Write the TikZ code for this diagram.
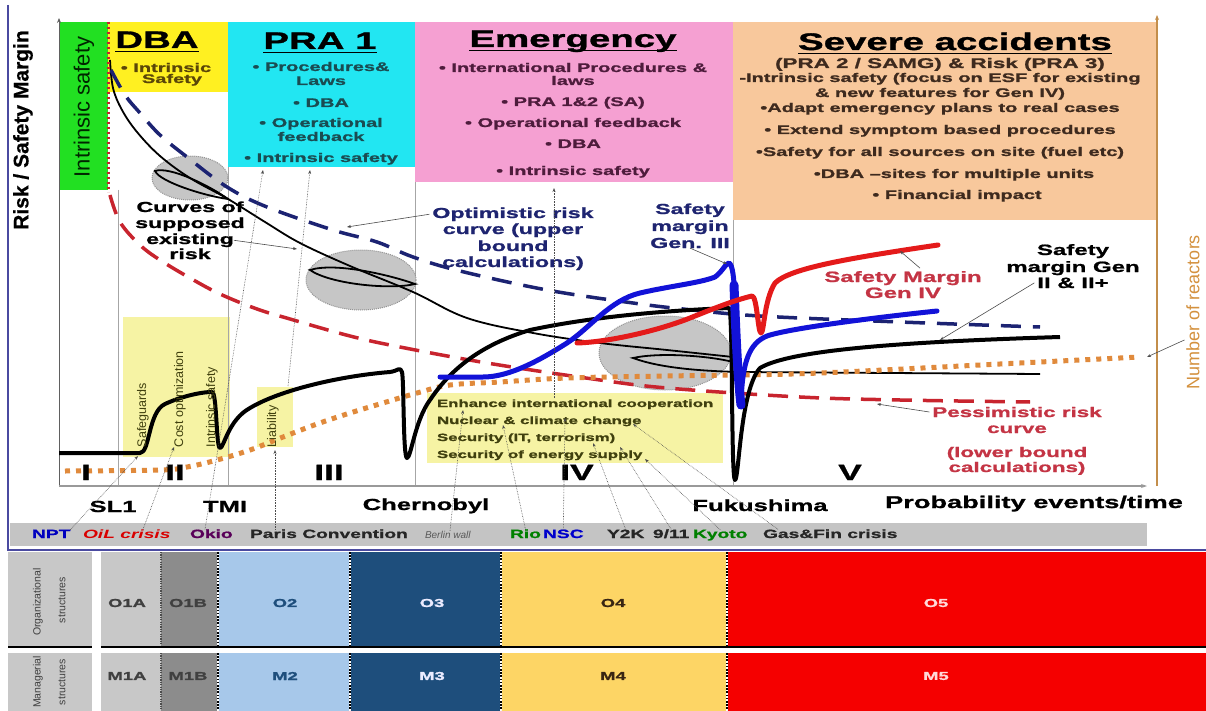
\documentclass[tikz,border=0pt]{standalone}
\usepackage{fontspec}
\setmainfont{Liberation Sans}[FakeStretch=1.6, BoldFeatures={FakeBold=1.2}]
\newfontfamily\plainfont{Liberation Sans}[BoldFeatures={FakeBold=0.6}]
\usetikzlibrary{arrows.meta}
\newcommand{\fsz}[1]{\fontsize{#1}{#1}\selectfont}

\definecolor{greenbox}{HTML}{22E022}
\definecolor{yellowbox}{HTML}{FFF021}
\definecolor{cyanbox}{HTML}{22E6F2}
\definecolor{pinkbox}{HTML}{F5A0D2}
\definecolor{orangebox}{HTML}{F8C89C}
\definecolor{paleyellow}{HTML}{F6F3A4}
\definecolor{navyline}{HTML}{1C2372}
\definecolor{pessred}{HTML}{C8242E}
\definecolor{genthree}{HTML}{1212D8}
\definecolor{genfour}{HTML}{E41A1A}
\definecolor{reactor}{HTML}{E08A3C}
\definecolor{reactortext}{HTML}{D4913E}
\definecolor{ellgray}{HTML}{C6C6C6}
\definecolor{bargray}{HTML}{C4C4C4}
\definecolor{labred}{HTML}{C43444}
\definecolor{labnavy}{HTML}{1E2470}
\definecolor{framecol}{HTML}{4A4AA0}
\definecolor{dbatext}{HTML}{5A4608}
\definecolor{pratext}{HTML}{1A4C52}
\definecolor{emtext}{HTML}{4E1C3C}
\definecolor{satext}{HTML}{3E2A1E}
\definecolor{olivetext}{HTML}{40400E}
\definecolor{cellgrayA}{HTML}{C8C8C8}
\definecolor{cellgrayB}{HTML}{8C8C8C}
\definecolor{celllblue}{HTML}{A7C8EA}
\definecolor{celldblue}{HTML}{1E4E7C}
\definecolor{cellyellow}{HTML}{FDD565}
\definecolor{cellred}{HTML}{F50000}

\begin{document}
\begin{tikzpicture}[x=1pt,y=-1pt,
  every node/.style={inner sep=0pt, outer sep=0pt},
  hdr/.style={anchor=base, font=\bfseries\fsz{24}},
  uline/.style={line width=1.8pt, black},
  item/.style={anchor=base, font=\bfseries\fsz{12.5}},
  curvelab/.style={anchor=base, font=\bfseries\fsz{14.5}},
  boxnote/.style={anchor=base west, font=\bfseries\fsz{10.5}, text=olivetext},
  sidenote/.style={anchor=west, rotate=90, font=\plainfont\fsz{12.5}, text=olivetext},
  roman/.style={anchor=base, font=\bfseries\fsz{22}},
  eventlab/.style={anchor=base, font=\bfseries\fsz{16}},
  barlab/.style={anchor=base west, font=\bfseries\fsz{12}},
  celllab/.style={anchor=center, font=\bfseries\fsz{11.5}},
  rowlab/.style={anchor=center, rotate=90, font=\plainfont\fsz{10.5}, text=black!75},
  phase/.style={gray!70, line width=1pt},
  ellipsebg/.style={fill=ellgray, draw=gray!85, densely dotted, line width=1pt},
  thinblk/.style={black, line width=1.8pt},
  leader/.style={gray!60!black, line width=0.6pt, densely dotted, -{Stealth[length=4pt,width=3pt]}},
  pointer/.style={black!70, line width=0.6pt, -{Stealth[length=4pt,width=3pt]}},
  sepline/.style={black, line width=2.6pt, dash pattern=on 1.6pt off 1.6pt},
  thinsep/.style={black!70, line width=1.4pt, dash pattern=on 1.2pt off 1.2pt}
]
\useasboundingbox (0,0) rectangle (1206,711);
\fill[white] (0,0) rectangle (1206,711);

% ---------- phase header boxes ----------
\fill[greenbox] (59,22) rectangle (108,190);
\fill[yellowbox] (108,22) rectangle (228,92);
\fill[cyanbox] (228,22) rectangle (415,167);
\fill[pinkbox] (415,22) rectangle (733,182);
\fill[orangebox] (733,22) rectangle (1157,220);

% ---------- pale highlight boxes ----------
\fill[paleyellow] (123,317) rectangle (230,457);
\fill[paleyellow] (257,387) rectangle (293,447);
\fill[paleyellow] (427,393) rectangle (723,463);

% ---------- frame and event bar ----------
\draw[framecol, line width=1.5pt] (8,5) -- (8,550) -- (1206,550);
\fill[bargray] (10,523) rectangle (1147,546);

% ---------- phase separators ----------
\draw[phase] (118,190) -- (118,486);
\draw[phase] (228,167) -- (228,486);
\draw[phase] (415,182) -- (415,486);
\draw[phase] (733,220) -- (733,486);

% ---------- axes ----------
\draw[gray!75!black, line width=1pt, -{Stealth[length=5pt,width=4pt]}] (59,486) -- (59,18);
\draw[gray!80, line width=1.5pt, -{Stealth[length=6pt,width=4pt]}] (59,486) -- (1147,486);
\draw[reactortext!80!gray, line width=1.2pt, -{Stealth[length=5pt,width=4pt]}] (1157,486) -- (1157,15);

% ---------- gray uncertainty ellipses ----------
\draw[ellipsebg] (190,178) ellipse [x radius=38, y radius=22];
\draw[ellipsebg] (361,280) ellipse [x radius=55, y radius=30];
\draw[ellipsebg] (665,353) ellipse [x radius=66, y radius=37];

% ---------- curves of supposed existing risk ----------
\draw[thinblk] plot[smooth, tension=0.6] coordinates {(110,60) (113,88) (122,110) (137,132) (160,156) (190,178) (228,199) (265,222) (300,243) (350,266) (413,292) (467,318) (533,333) (600,343) (667,350) (733,357)};
\draw[thinblk] (155,171) .. controls (170,166) and (210,186) .. (228,199) .. controls (205,196) and (160,182) .. cycle;
\draw[thinblk] (310,270) .. controls (335,262) and (390,275) .. (415,284) .. controls (390,290) and (330,284) .. cycle;
\draw[thinblk] (733,362) .. controls (710,356) and (660,352) .. (633,358) .. controls (660,368) and (700,371) .. (740,372) -- (1040,374);

% ---------- optimistic risk curve ----------
\draw[navyline, line width=3.5pt, dash pattern=on 20pt off 12pt] plot[smooth, tension=0.6] coordinates {(111,70) (125,95) (140,113) (160,135) (187,157) (227,187) (267,207) (333,230) (377,242) (413,257) (460,271) (547,290) (633,303) (683,309) (760,316) (900,322) (1040,327)};

% ---------- pessimistic risk curve ----------
\draw[pessred, line width=3pt, dash pattern=on 2.5pt off 2.5pt] (108,22) -- (108,192);
\draw[pessred, line width=3.5pt, dash pattern=on 20pt off 11pt] plot[smooth, tension=0.6] coordinates {(110,195) (120,222) (140,245) (160,260) (190,278) (220,294) (257,309) (290,319) (350,336) (400,347) (487,363) (593,379) (667,388) (800,397) (900,400) (1030,402)};

% ---------- number of reactors ----------
\draw[reactor, line width=5pt, dash pattern=on 5pt off 6pt] plot[smooth, tension=0.6] coordinates {(65,471) (160,470) (187,467) (217,460) (250,450) (283,437) (317,424) (350,413) (383,403) (417,393) (450,385) (500,382) (567,378) (667,376) (733,375) (820,373) (1000,364) (1140,357)};

% ---------- safety margin Gen II & II+ ----------
\draw[black, line width=4pt, line join=round] (59,453) -- (140,453)
  .. controls (150,453) and (148,412) .. (165,404)
  .. controls (180,397) and (200,392) .. (212,392)
  .. controls (217,392) and (216,448) .. (220,448)
  .. controls (224,448) and (228,420) .. (250,408)
  .. controls (280,390) and (340,376) .. (390,372)
  .. controls (398,371) and (400,366) .. (402,372)
  .. controls (404,380) and (403,458) .. (407,458)
  .. controls (411,458) and (415,420) .. (430,400)
  .. controls (450,370) and (480,345) .. (530,330)
  .. controls (600,315) and (680,310) .. (729,308)
  .. controls (733,308) and (731,480) .. (735,480)
  .. controls (739,480) and (740,390) .. (760,368)
  .. controls (790,350) and (900,342) .. (1060,337);

% ---------- safety margin Gen III ----------
\draw[genthree, line width=5pt, line cap=round, line join=round] (440,377) -- (483,377)
  .. controls (510,377) and (540,360) .. (567,343)
  .. controls (590,328) and (610,300) .. (640,293)
  .. controls (670,286) and (700,283) .. (715,277)
  .. controls (722,272) and (726,263) .. (729,263)
  .. controls (733,265) and (734,280) .. (735,300);
\draw[genthree, line width=9pt, line cap=round] (734,285) .. controls (736,340) and (738,380) .. (741,405);
\draw[genthree, line width=5pt, line cap=round] (741,405) .. controls (742,360) and (750,343) .. (767,336) .. controls (790,328) and (880,317) .. (937,311);

% ---------- safety margin Gen IV ----------
\draw[genfour, line width=5pt, line cap=round, line join=round] (577,343)
  .. controls (610,342) and (660,330) .. (690,318)
  .. controls (715,308) and (735,300) .. (752,296)
  .. controls (757,296) and (758,333) .. (761,333)
  .. controls (764,333) and (764,300) .. (775,283)
  .. controls (790,268) and (850,258) .. (938,245);

% ---------- header texts ----------
\node[hdr] (dba-t) at (157,48) {DBA};
\node[hdr] (pra-t) at (320,49) {PRA 1};
\node[hdr] (em-t) at (573,47) {Emergency};
\node[hdr] (sa-t) at (955,50) {Severe accidents};
\foreach \h in {dba-t,pra-t,em-t,sa-t}
  \draw[uline] ([yshift=-3.5pt]\h.base west) -- ([yshift=-3.5pt]\h.base east);

\node[item, text=dbatext] (dba-1) at (166,72) {• Intrinsic};
\node[item, text=dbatext] (dba-2) at (172,83) {Safety};

\node[item, text=pratext] (pra-1) at (321,71) {• Procedures\&};
\node[item, text=pratext] (pra-2) at (321,85) {Laws};
\node[item, text=pratext] (pra-3) at (321,107) {• DBA};
\node[item, text=pratext] (pra-4) at (321,127) {• Operational};
\node[item, text=pratext] (pra-5) at (321,141) {feedback};
\node[item, text=pratext] (pra-6) at (321,162) {• Intrinsic safety};

\node[item, text=emtext] (em-1) at (573,72) {• International Procedures \&};
\node[item, text=emtext] (em-2) at (573,85) {laws};
\node[item, text=emtext] (em-3) at (573,106) {• PRA 1\&2 (SA)};
\node[item, text=emtext] (em-4) at (573,127) {• Operational feedback};
\node[item, text=emtext] (em-5) at (573,148) {• DBA};
\node[item, text=emtext] (em-6) at (573,175) {• Intrinsic safety};

\node[item, text=satext, font=\bfseries\fsz{14}] (sa-0) at (940,68) {(PRA 2 / SAMG) \& Risk (PRA 3)};
\node[item, text=satext] (sa-1) at (940,82) {-Intrinsic safety (focus on ESF for existing};
\node[item, text=satext] (sa-2) at (940,97) {\& new features for Gen IV)};
\node[item, text=satext] (sa-3) at (940,112) {•Adapt emergency plans to real cases};
\node[item, text=satext] (sa-4) at (940,134) {• Extend symptom based procedures};
\node[item, text=satext] (sa-5) at (940,156) {•Safety for all sources on site (fuel etc)};
\node[item, text=satext] (sa-6) at (954,178) {•DBA –sites for multiple units};
\node[item, text=satext] (sa-7) at (957,199) {• Financial impact};

% ---------- axis titles ----------
\node[rotate=90, font=\plainfont\bfseries\fsz{21}] (ylab) at (23,130) {Risk / Safety Margin};
\node[rotate=90, font=\plainfont\fsz{22}, text=black!85!green] (green-lab) at (84,107) {Intrinsic safety};
\node[rotate=90, font=\plainfont\fsz{18}, text=reactortext] (nr) at (1193,312) {Number of reactors};
\node[anchor=base, font=\bfseries\fsz{17}] (xlab) at (1034,508) {Probability events/time};

% ---------- curve labels ----------
\node[curvelab] (cs-1) at (190,212) {Curves of};
\node[curvelab] (cs-2) at (190,228) {supposed};
\node[curvelab] (cs-3) at (190,244) {existing};
\node[curvelab] (cs-4) at (190,259) {risk};

\node[curvelab, text=labnavy] (op-1) at (513,218) {Optimistic risk};
\node[curvelab, text=labnavy] (op-2) at (513,234) {curve (upper};
\node[curvelab, text=labnavy] (op-3) at (513,251) {bound};
\node[curvelab, text=labnavy] (op-4) at (513,267) {calculations)};

\node[curvelab, text=labnavy] (g3-1) at (690,214) {Safety};
\node[curvelab, text=labnavy] (g3-2) at (690,231) {margin};
\node[curvelab, text=labnavy] (g3-3) at (690,248) {Gen. III};

\node[curvelab, text=labred, font=\bfseries\fsz{15}] (g4-1) at (903,282) {Safety Margin};
\node[curvelab, text=labred, font=\bfseries\fsz{15}] (g4-2) at (903,298) {Gen IV};

\node[curvelab, font=\bfseries\fsz{15}] (g2-1) at (1073,255) {Safety};
\node[curvelab, font=\bfseries\fsz{15}] (g2-2) at (1073,272) {margin Gen};
\node[curvelab, font=\bfseries\fsz{15}] (g2-3) at (1073,288) {II \& II+};

\node[curvelab, text=labred, font=\bfseries\fsz{14}] (pe-1) at (1017,417) {Pessimistic risk};
\node[curvelab, text=labred, font=\bfseries\fsz{14}] (pe-2) at (1017,433) {curve};
\node[curvelab, text=labred, font=\bfseries\fsz{14}] (pe-3) at (1017,457) {(lower bound};
\node[curvelab, text=labred, font=\bfseries\fsz{14}] (pe-4) at (1017,472) {calculations)};

% ---------- notes in the pale boxes ----------
\node[sidenote] (sn-1) at (143,447) {Safeguards};
\node[sidenote] (sn-2) at (180,447) {Cost optimization};
\node[sidenote] (sn-3) at (212,447) {Intrinsic safety};
\node[sidenote] (sn-4) at (273,447) {Liability};

\node[boxnote] (bn-1) at (437,407) {Enhance international cooperation};
\node[boxnote] (bn-2) at (437,424) {Nuclear \& climate change};
\node[boxnote] (bn-3) at (437,441) {Security (IT, terrorism)};
\node[boxnote] (bn-4) at (437,458) {Security of energy supply};

% ---------- periods and events ----------
\node[roman] (r1) at (86,480) {I};
\node[roman] (r2) at (175,480) {II};
\node[roman] (r3) at (329,480) {III};
\node[roman] (r4) at (577,480) {IV};
\node[roman] (r5) at (850,480) {V};

\node[eventlab] (e-sl1) at (113,512) {SL1};
\node[eventlab] (e-tmi) at (225,512) {TMI};
\node[eventlab] (e-cher) at (426,510) {Chernobyl};
\node[eventlab] (e-fuku) at (760,511) {Fukushima};

\node[barlab, text=blue!75!black] (ev-npt) at (32,538) {NPT};
\node[barlab, text=red!85!black, font=\bfseries\itshape\fsz{12}] (ev-oil) at (83,538) {OiL crisis};
\node[barlab, text=violet!70!black] (ev-oklo) at (190,538) {Okio};
\node[barlab, text=black!85] (ev-paris) at (250,538) {Paris Convention};
\node[barlab, text=black!65, font=\plainfont\itshape\fsz{10}] (ev-berlin) at (425,538) {Berlin wall};
\node[barlab, text=green!50!black] (ev-rio) at (510,538) {Rio};
\node[barlab, text=blue!80!black] (ev-nsc) at (543,538) {NSC};
\node[barlab, text=black!85] (ev-y2k) at (607,538) {Y2K};
\node[barlab, text=black!85] (ev-911) at (653,538) {9/11};
\node[barlab, text=green!50!black] (ev-kyoto) at (693,538) {Kyoto};
\node[barlab, text=black!85] (ev-gas) at (763,538) {Gas\&Fin crisis};

% ---------- leader targets ----------
\coordinate (t-safeg) at (138,456);
\coordinate (t-cost) at (174,447);
\coordinate (t-prais) at (263,170);
\coordinate (t-liab) at (275,450);
\coordinate (s-liab) at (288,386);
\coordinate (t-prapl) at (310,170);
\coordinate (t-enh) at (463,410);
\coordinate (t-clim) at (503,425);
\coordinate (t-nsc) at (565,418);
\coordinate (s-vert) at (554,398);
\coordinate (t-em) at (554,188);
\coordinate (t-it) at (593,443);
\coordinate (t-nine) at (620,447);
\coordinate (t-energy) at (645,459);
\coordinate (t-gas) at (633,424);

\draw[leader] (ev-npt.north east) -- (t-safeg);
\draw[leader] ([xshift=60pt]ev-oil.north west) -- (t-cost);
\draw[leader] ([xshift=15pt]ev-oklo.north west) -- (t-prais);
\draw[leader] ([xshift=25pt]ev-paris.north west) -- (t-liab);
\draw[leader] (s-liab) -- (t-prapl);
\draw[leader] ([xshift=25pt]ev-berlin.north west) -- (t-enh);
\draw[leader] (ev-rio.north) -- (t-clim);
\draw[leader] (ev-nsc.north) -- (t-nsc);
\draw[leader] (s-vert) -- (t-em);
\draw[leader] (ev-y2k.north) -- (t-it);
\draw[leader] (ev-911.north) -- (t-nine);
\draw[leader] (ev-kyoto.north) -- (t-energy);
\draw[leader] ([xshift=15pt]ev-gas.north west) -- (t-gas);

% ---------- label pointers ----------
\coordinate (p-exist) at (297,249);
\coordinate (p-opt) at (347,227);
\coordinate (p-g3) at (727,264);
\coordinate (p-g4) at (900,251);
\coordinate (p-g2) at (940,340);
\coordinate (p-pes) at (877,404);
\coordinate (p-nr) at (1147,357);
\draw[pointer] (cs-3.east) -- (p-exist);
\draw[pointer] ([xshift=-3pt]op-1.west) -- (p-opt);
\draw[pointer] (g3-3.south) -- (p-g3);
\draw[pointer] ([xshift=17pt,yshift=3pt]g4-1.north) -- (p-g4);
\draw[pointer] ([xshift=-3pt]g2-3.west) -- (p-g2);
\draw[pointer] ([xshift=-3pt]pe-1.west) -- (p-pes);
\draw[pointer] ([xshift=-2pt,yshift=-28pt]nr.north) -- (p-nr);

% ---------- organisational / managerial structure rows ----------
\fill[cellgrayA] (8,552) rectangle (92,646);
\fill[cellgrayA] (8,653) rectangle (92,711);
\foreach \ya/\yb in {552/646, 653/711} {
  \fill[cellgrayA] (101,\ya) rectangle (161,\yb);
  \fill[cellgrayB] (161,\ya) rectangle (218,\yb);
  \fill[celllblue] (218,\ya) rectangle (350,\yb);
  \fill[celldblue] (350,\ya) rectangle (501,\yb);
  \fill[cellyellow] (501,\ya) rectangle (727,\yb);
  \fill[cellred] (727,\ya) rectangle (1206,\yb);
  \draw[thinsep] (161,\ya) -- (161,\yb);
  \foreach \sx in {218,350,501,727} {
    \draw[white, line width=2.6pt] (\sx,\ya) -- (\sx,\yb);
    \draw[sepline] (\sx,\ya) -- (\sx,\yb);
  }
}
\draw[black, line width=2.5pt] (8,647) -- (92,647);
\draw[black, line width=2.5pt] (101,647) -- (1206,647);

\node[rowlab] (org-1) at (38,602) {Organizational};
\node[rowlab] (org-2) at (62,600) {structures};
\node[rowlab] (man-1) at (38,682) {Managerial};
\node[rowlab] (man-2) at (62,682) {structures};

\node[celllab, text=black!75] (o1a) at (127,603) {O1A};
\node[celllab, text=black!75] (o1b) at (188,603) {O1B};
\node[celllab, text=celldblue] (o2) at (285,603) {O2};
\node[celllab, text=blue!8] (o3) at (432,603) {O3};
\node[celllab, text=black!70!brown] (o4) at (613,603) {O4};
\node[celllab, text=red!15] (o5) at (936,603) {O5};
\node[celllab, text=black!75] (m1a) at (127,676) {M1A};
\node[celllab, text=black!75] (m1b) at (188,676) {M1B};
\node[celllab, text=celldblue] (m2) at (285,676) {M2};
\node[celllab, text=blue!8] (m3) at (432,676) {M3};
\node[celllab, text=black!70!brown] (m4) at (613,676) {M4};
\node[celllab, text=red!15] (m5) at (936,676) {M5};
\end{tikzpicture}
\end{document}
